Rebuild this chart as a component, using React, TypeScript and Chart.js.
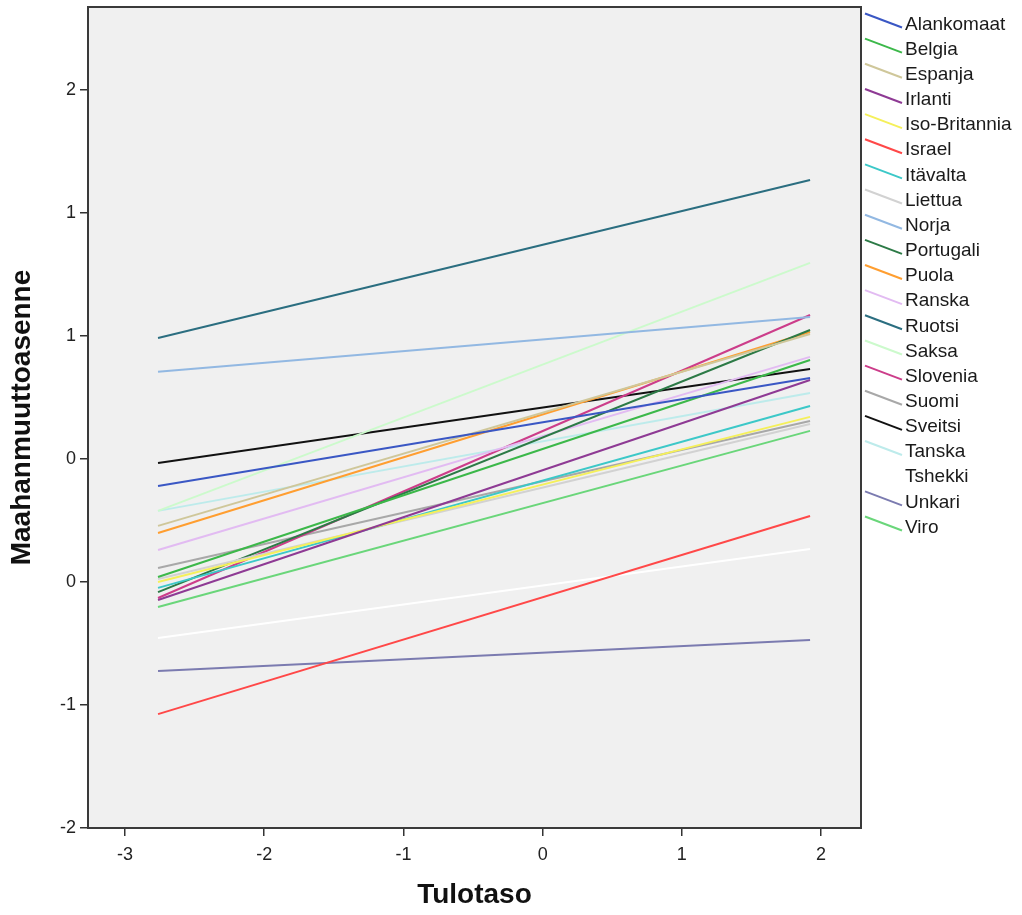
import React, { useEffect, useRef } from "react";
import { Chart, registerables } from "chart.js";

Chart.register(...registerables);

const COUNTRIES = [
  "Alankomaat", "Belgia", "Espanja", "Irlanti", "Iso-Britannia", "Israel", "Itävalta",
  "Liettua", "Norja", "Portugali", "Puola", "Ranska", "Ruotsi", "Saksa", "Slovenia",
  "Suomi", "Sveitsi", "Tanska", "Tshekki", "Unkari", "Viro",
];
const COLORS = [
  "#3A57C4", "#3CB84A", "#CFC79A", "#8E3A94", "#F5F05A", "#FF4848", "#3CC8C8",
  "#D2D2D2", "#92B8E2", "#2C7A46", "#FF9E30", "#E2BBF2", "#2B6E80", "#CCFACC", "#CC3D8A",
  "#A8A8A8", "#111111", "#BDEBEB", "#FFFFFF", "#7B7BB0", "#6AD67A",
];
// Value of each country's line at the lowest and highest income (Tulotaso)
const START_VALUES = [
  -0.110, -0.480, -0.272, -0.573, -0.500, -1.037, -0.524,
  -0.488, 0.354, -0.541, -0.301, -0.370, 0.492, -0.211, -0.565,
  -0.443, -0.016, -0.211, -0.728, -0.862, -0.602,
];
const END_VALUES = [
  0.329, 0.402, 0.508, 0.321, 0.171, -0.232, 0.215,
  0.142, 0.577, 0.524, 0.516, 0.415, 1.134, 0.797, 0.585,
  0.154, 0.366, 0.268, -0.366, -0.736, 0.114,
];
const X_START = -2.763;
const X_END = 1.921;
const X_TICKS = [-3, -2, -1, 0, 1, 2];
const Y_TICKS = [-1.5, -1, -0.5, 0, 0.5, 1, 1.5];
const Y_TICK_LABELS = ["-2", "-1", "0", "0", "1", "1", "2"];

const FONT = "'Liberation Sans', Arial, sans-serif";

export default function App() {
  const ref = useRef<HTMLCanvasElement | null>(null);

  useEffect(() => {
    if (!ref.current) return;
    const datasets = COUNTRIES.map((name, i) => ({
      label: name,
      data: [
        { x: X_START, y: START_VALUES[i] },
        { x: X_END, y: END_VALUES[i] },
      ],
      borderColor: COLORS[i],
      backgroundColor: COLORS[i],
      borderWidth: 2,
      pointRadius: 0,
      fill: false,
      tension: 0,
    }));

    const bgPlugin = {
      id: "bgPlugin",
      beforeDraw(chart: any) {
        const { ctx, chartArea: a } = chart;
        ctx.save();
        ctx.fillStyle = "#FFFFFF";
        ctx.fillRect(0, 0, chart.width, chart.height);
        ctx.fillStyle = "#F0F0F0";
        ctx.fillRect(a.left, a.top, a.right - a.left, a.bottom - a.top);
        ctx.restore();
      },
      afterDraw(chart: any) {
        const { ctx, chartArea: a } = chart;
        ctx.save();
        ctx.strokeStyle = "#3A3A3A";
        ctx.lineWidth = 2;
        ctx.strokeRect(a.left, a.top, a.right - a.left, a.bottom - a.top);

        // axis titles
        ctx.fillStyle = "#111";
        ctx.font = `bold 28px ${FONT}`;
        ctx.textAlign = "center";
        ctx.textBaseline = "middle";
        ctx.fillText("Tulotaso", (a.left + a.right) / 2, 895);
        ctx.save();
        ctx.translate(22, (a.top + a.bottom) / 2);
        ctx.rotate(-Math.PI / 2);
        ctx.fillText("Maahanmuuttoasenne", 0, 0);
        ctx.restore();

        // legend
        ctx.font = `19px ${FONT}`;
        ctx.textAlign = "left";
        COUNTRIES.forEach((name, i) => {
          const c = 23.5 + i * 25.15;
          ctx.strokeStyle = COLORS[i];
          ctx.lineWidth = 2;
          ctx.beginPath();
          ctx.moveTo(865, c - 10);
          ctx.lineTo(902, c + 4);
          ctx.stroke();
          ctx.fillStyle = "#1A1A1A";
          ctx.fillText(name, 905, c + 1);
        });
        ctx.restore();
      },
    };

    const chart = new Chart(ref.current, {
      type: "line",
      data: { datasets },
      plugins: [bgPlugin],
      options: {
        animation: false,
        responsive: false,
        devicePixelRatio: 1,
        layout: { padding: { left: 0, top: 7, right: 161, bottom: 0 } },
        plugins: {
          legend: { display: false },
          tooltip: { enabled: false },
        },
        scales: {
          x: {
            type: "linear",
            min: -3.266,
            max: 2.287,
            afterBuildTicks: (scale: any) => {
              scale.ticks = X_TICKS.map((v) => ({ value: v }));
            },
            afterFit: (scale: any) => {
              scale.height = 87;
              scale.paddingLeft = 0;
              scale.paddingRight = 0;
            },
            border: { display: false },
            grid: {
              display: true,
              drawOnChartArea: false,
              drawTicks: true,
              tickLength: 8,
              color: "#333",
              lineWidth: 1.5,
            },
            ticks: {
              padding: 8,
              color: "#222",
              font: { family: FONT, size: 18 },
              maxRotation: 0,
              callback: (v: any) => String(v),
            },
          },
          y: {
            type: "linear",
            min: -1.5,
            max: 1.837,
            afterBuildTicks: (scale: any) => {
              scale.ticks = Y_TICKS.map((v) => ({ value: v }));
            },
            afterFit: (scale: any) => {
              scale.width = 88;
              scale.paddingTop = 0;
              scale.paddingBottom = 0;
            },
            border: { display: false },
            grid: {
              display: true,
              drawOnChartArea: false,
              drawTicks: true,
              tickLength: 8,
              color: "#333",
              lineWidth: 1.5,
            },
            ticks: {
              padding: 4,
              color: "#222",
              font: { family: FONT, size: 18 },
              callback: (_v: any, i: number) => Y_TICK_LABELS[i],
            },
          },
        },
      },
    } as any);
    return () => chart.destroy();
  }, []);

  return (
    <div style={{ position: "fixed", left: 0, top: 0, width: 1022, height: 915, background: "#fff" }}>
      <canvas ref={ref} width={1022} height={915} style={{ width: 1022, height: 915, display: "block" }} />
    </div>
  );
}
